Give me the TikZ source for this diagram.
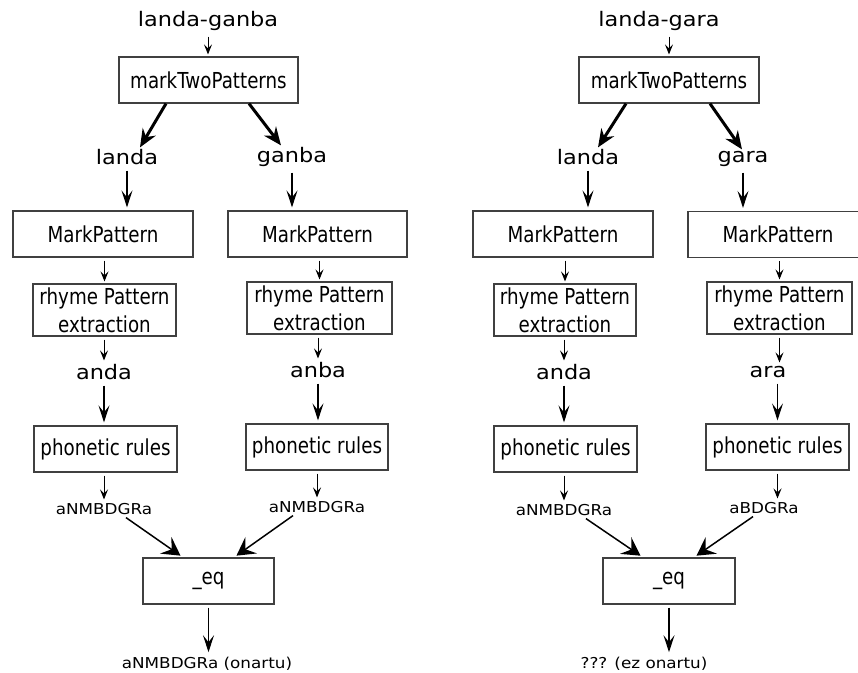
\documentclass[tikz,border=0pt]{standalone}
\usepackage{fontspec}
\usetikzlibrary{arrows.meta,calc}
\newfontfamily\boxfont[FakeStretch=0.83]{DejaVu Sans}
\newfontfamily\labfont[FakeStretch=1.12]{DejaVu Sans}

\begin{document}
\begin{tikzpicture}[x=0.5pt, y=-0.5pt,
    box/.style={draw=black!75, line width=0.6pt, inner sep=0pt, minimum height=23pt, align=center, font=\boxfont\fontsize{11}{14}\selectfont},
    lbl/.style={anchor=base, inner sep=1pt, font=\labfont\fontsize{10}{12}\selectfont},
    small/.style={anchor=base, inner sep=1pt, font=\labfont\fontsize{7.5}{9}\selectfont},
    smallarrow/.style={-{Stealth[length=5pt, width=4pt, inset=2pt]}, line width=0.5pt, shorten <=1.5pt, shorten >=1pt},
    midarrow/.style={-{Stealth[length=8.5pt, width=5.5pt, inset=3.5pt]}, line width=0.55pt, shorten <=1.5pt, shorten >=1.5pt},
    bigarrow/.style={-{Stealth[length=9pt, width=7.5pt, inset=3pt]}, line width=1.5pt},
    eqarrow/.style={-{Stealth[length=9pt, width=10pt, inset=3.5pt]}, line width=0.75pt, shorten >=1.5pt}]

  \useasboundingbox (0,0) rectangle (858,673);

  % left: landa-ganba
  \node[lbl] (inL) at (208,27) {landa-ganba};
  \node[box, minimum width=89.5pt] (mtpL) at (208.5,80) {markTwoPatterns};
  \node[lbl] (wLL) at (127,165) {landa};
  \node[lbl] (wLR) at (292,163) {ganba};
  \node[box, minimum width=90pt] (mpLL) at (103,234) {MarkPattern};
  \node[box, minimum width=89.5pt] (mpLR) at (317.5,234) {MarkPattern};
  \node[box, minimum width=71.5pt, minimum height=26pt] (rpLL) at (104.5,310) {rhyme Pattern\\extraction};
  \node[box, minimum width=72.5pt, minimum height=26pt] (rpLR) at (319.5,308) {rhyme Pattern\\extraction};
  \node[lbl] (sLL) at (104,380) {anda};
  \node[lbl] (sLR) at (318,378) {anba};
  \node[box, minimum width=71.5pt] (prLL) at (105.5,449) {phonetic rules};
  \node[box, minimum width=71pt] (prLR) at (317,447) {phonetic rules};
  \node[small] (aLL) at (104,515) {aNMBDGRa};
  \node[small] (aLR) at (317,513) {aNMBDGRa};
  \node[box, minimum width=65.5pt] (eqL) at (208.5,581) {\_eq};
  \node[small] (outL) at (207,669) {aNMBDGRa (onartu)};

  % left arrows
  \draw[smallarrow] (inL.south) -- (inL.south |- mtpL.north);
  \draw[bigarrow] ($(mtpL.south)+(-42.5,0)$) -- ($(wLL.north)+(13,0)$);
  \draw[bigarrow] ($(mtpL.south)+(40.5,0)$) -- ($(wLR.north)+(-11,0)$);
  \draw[midarrow] (wLL.south) -- (wLL.south |- mpLL.north);
  \draw[midarrow] (wLR.south) -- (wLR.south |- mpLR.north);
  \draw[smallarrow] (rpLL.north |- mpLL.south) -- (rpLL.north);
  \draw[smallarrow] (rpLR.north |- mpLR.south) -- (rpLR.north);
  \draw[smallarrow] (sLL.north |- rpLL.south) -- (sLL.north);
  \draw[smallarrow] (sLR.north |- rpLR.south) -- (sLR.north);
  \draw[midarrow] (sLL.south) -- (sLL.south |- prLL.north);
  \draw[midarrow] (sLR.south) -- (sLR.south |- prLR.north);
  \draw[smallarrow] (aLL.north |- prLL.south) -- (aLL.north);
  \draw[smallarrow] (aLR.north |- prLR.south) -- (aLR.north);
  \draw[eqarrow] ($(aLL.south)+(22,0)$) -- ($(eqL.north)+(-25.5,0)$);
  \draw[eqarrow] ($(aLR.south)+(-24,0)$) -- ($(eqL.north)+(25.5,0)$);
  \draw[midarrow] (eqL.south) -- (eqL.south |- outL.north);

  % right: landa-gara
  \node[lbl] (inR) at (659,27) {landa-gara};
  \node[box, minimum width=90pt] (mtpR) at (669,80) {markTwoPatterns};
  \node[lbl] (wRL) at (588,165) {landa};
  \node[lbl] (wRR) at (743,163) {gara};
  \node[box, minimum width=90pt] (mpRL) at (563,234) {MarkPattern};
  \node[box, minimum width=90pt] (mpRR) at (778,234.5) {MarkPattern};
  \node[box, minimum width=71pt, minimum height=26pt] (rpRL) at (565,310) {rhyme Pattern\\extraction};
  \node[box, minimum width=72.5pt, minimum height=26pt] (rpRR) at (779.5,308) {rhyme Pattern\\extraction};
  \node[lbl] (sRL) at (564,380) {anda};
  \node[lbl] (sRR) at (768,378) {ara};
  \node[box, minimum width=71.5pt] (prRL) at (565.5,449) {phonetic rules};
  \node[box, minimum width=71.5pt] (prRR) at (777.5,447) {phonetic rules};
  \node[small] (aRL) at (564,516) {aNMBDGRa};
  \node[small] (aRR) at (764,514) {aBDGRa};
  \node[box, minimum width=66pt] (eqR) at (669,581) {\_eq};
  \node[small] (outR) at (644,669) {??? (ez onartu)};

  % right arrows
  \draw[smallarrow] (mtpR.north |- inR.south) -- (mtpR.north);
  \draw[bigarrow] ($(mtpR.south)+(-43,0)$) -- ($(wRL.north)+(10,0)$);
  \draw[bigarrow] ($(mtpR.south)+(41,0)$) -- ($(wRR.north)+(-1,0)$);
  \draw[midarrow] (wRL.south) -- (wRL.south |- mpRL.north);
  \draw[midarrow] (wRR.south) -- (wRR.south |- mpRR.north);
  \draw[smallarrow] (rpRL.north |- mpRL.south) -- (rpRL.north);
  \draw[smallarrow] (rpRR.north |- mpRR.south) -- (rpRR.north);
  \draw[smallarrow] (sRL.north |- rpRL.south) -- (sRL.north);
  \draw[smallarrow] (rpRR.south) -- (rpRR.south |- sRR.north);
  \draw[midarrow] (sRL.south) -- (sRL.south |- prRL.north);
  \draw[midarrow] (prRR.north |- sRR.south) -- (prRR.north);
  \draw[smallarrow] (aRL.north |- prRL.south) -- (aRL.north);
  \draw[smallarrow] (prRR.south) -- (prRR.south |- aRR.north);
  \draw[eqarrow] ($(aRL.south)+(22,0)$) -- ($(eqR.north)+(-26,0)$);
  \draw[eqarrow] ($(aRR.south)+(-11,0)$) -- ($(eqR.north)+(25,0)$);
  \draw[midarrow] (eqR.south) -- (eqR.south |- outR.north);

\end{tikzpicture}
\end{document}
